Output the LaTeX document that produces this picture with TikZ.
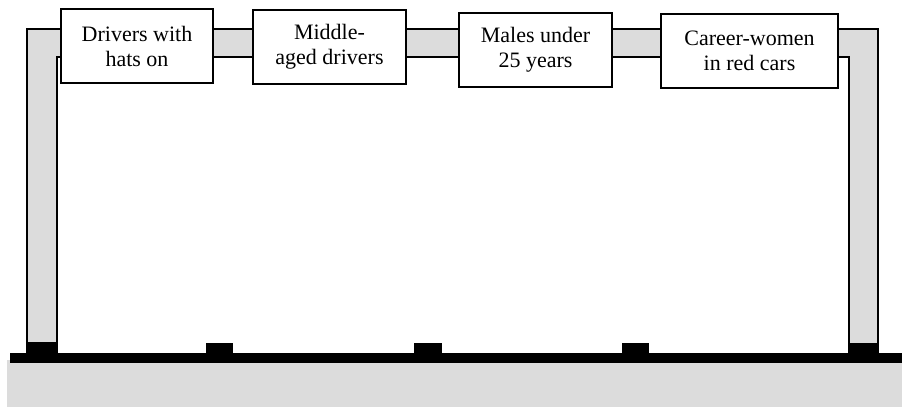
\documentclass[tikz,border=0pt]{standalone}
\usepackage{fontspec}
\setmainfont{Liberation Serif}
\begin{document}
\begin{tikzpicture}[x=1pt,y=-1pt,
  pipe/.style={fill=pipegray,draw=black,line width=1.3pt},
  label/.style={draw=black,fill=white,line width=1.3pt,align=center,
    font=\fontsize{22}{25}\selectfont,inner sep=0pt,minimum height=74pt},
  solid/.style={fill=black,draw=none}]
\definecolor{pipegray}{HTML}{DCDCDC}
\useasboundingbox (0,0) rectangle (902,407);
% ground
\fill[pipegray] (7,360) rectangle (902,407);
\fill[black] (10,353) rectangle (902,363);
% pipe frame
\path[pipe] (27,353) -- (27,29) -- (878,29) -- (878,353) -- (849,353)
  -- (849,57) -- (57,57) -- (57,353) -- cycle;
% feet and supports
\fill[black] (27,342) rectangle (57,354);
\fill[black] (849,343) rectangle (878,354);
\fill[black] (206,343) rectangle (233,354);
\fill[black] (414,343) rectangle (442,354);
\fill[black] (622,343) rectangle (649,354);
% boxes
\node[label,minimum width=152pt] (b1) at (137,46) {Drivers with\\hats on};
\node[label,minimum width=153pt] (b2) at (329.5,47) {Middle-\\aged drivers};
\node[label,minimum width=153pt] (b3) at (535.5,50) {Males under\\25 years};
\node[label,minimum width=177pt] (b4) at (749.5,51) {Career-women\\in red cars};
\end{tikzpicture}
\end{document}
